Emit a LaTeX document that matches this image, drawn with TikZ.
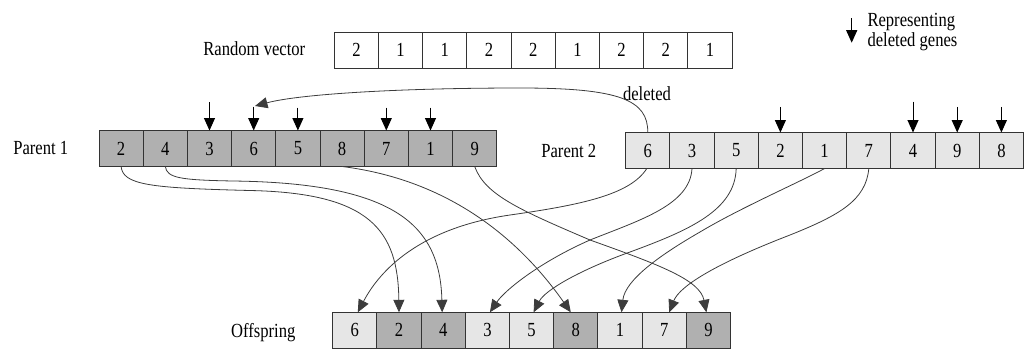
\documentclass[tikz,border=0pt]{standalone}
\usepackage{fontspec}
\setmainfont{Liberation Serif}[FakeStretch=0.83]
\usetikzlibrary{arrows.meta}
\definecolor{darkcell}{HTML}{B0B0B0}
\definecolor{lightcell}{HTML}{E6E6E6}
\definecolor{edge}{HTML}{333333}
\definecolor{wire}{HTML}{3C3C3C}
\begin{document}
\begin{tikzpicture}[x=1pt,y=-1pt,
  font=\fontsize{20}{20}\selectfont,
  cell/.style={draw=edge, line width=1pt, minimum width=44.2pt, minimum height=36pt,
    inner sep=0pt, outer sep=0pt, anchor=west},
  arrowtip/.style={-{Triangle[width=11pt,length=12.5pt]}},
  link/.style={arrowtip, draw=wire, line width=0.8pt},
  delmark/.style={arrowtip, draw=black, line width=1pt},
  label/.style={anchor=base, inner sep=0pt}]
\useasboundingbox (0,0) rectangle (1029,349);

% chromosome rows
\foreach \v [count=\i] in {2,1,1,2,2,1,2,2,1}
  \node[cell, fill=white] (r\i) at ({334.3+44.2*(\i-1)}, 50) {\v};
\foreach \v [count=\i] in {2,4,3,6,5,8,7,1,9}
  \node[cell, fill=darkcell] (pa\i) at ({99+44.2*(\i-1)}, 148.5) {\v};
\foreach \v [count=\i] in {6,3,5,2,1,7,4,9,8}
  \node[cell, fill=lightcell] (pb\i) at ({625.7+44.2*(\i-1)}, 150.5) {\v};
\foreach \v/\c [count=\i] in {6/lightcell,2/darkcell,4/darkcell,3/lightcell,5/lightcell,
    8/darkcell,1/lightcell,7/lightcell,9/darkcell}
  \node[cell, fill=\c] (oc\i) at ({332.7+44.2*(\i-1)}, 330.3) {\v};

% row labels
\node[label] (lrand) at (254.3,55) {Random vector};
\node[label] (lpa) at (40.8,154) {Parent 1};
\node[label] (lpb) at (568.8,157) {Parent 2};
\node[label] (loff) at (263.3,337.5) {Offspring};
\node[label] (ldel) at (647,100) {deleted};

% legend
\coordinate (legtop) at (851.7,18.3);
\coordinate (legbot) at (851.7,42.7);
\draw[delmark] (legtop) -- (legbot);
\node[anchor=base west, inner sep=0pt] (leg1) at (867.3,26.7) {Representing};
\node[anchor=base west, inner sep=0pt] (leg2) at (867.3,46.7) {deleted genes};

% deleted genes, parent 1
\draw[delmark] ([yshift=28.3pt]pa3.north) -- (pa3.north);
\draw[delmark] ([yshift=24pt]pa4.north) -- (pa4.north);
\draw[delmark] ([yshift=23pt]pa5.north) -- (pa5.north);
\draw[delmark] ([yshift=23pt]pa7.north) -- (pa7.north);
\draw[delmark] ([yshift=23pt]pa8.north) -- (pa8.north);
% deleted genes, parent 2
\draw[delmark] ([yshift=25.7pt]pb4.north) -- (pb4.north);
\draw[delmark] ([yshift=31pt]pb7.north) -- (pb7.north);
\draw[delmark] ([yshift=25.7pt]pb8.north) -- (pb8.north);
\draw[delmark] ([yshift=25.7pt]pb9.north) -- (pb9.north);

% gene 6 of parent 2 is removed from parent 1
\coordinate (deltip) at (255,106);
\draw[link] (pb1.north) .. controls (648,100) and (620,88) .. (520,88)
  .. controls (400,88) and (300,94) .. (deltip);

% genes kept from parent 1
\draw[link] (pa1.south) .. controls (123,185) and (150,188) .. (250,190.5)
  .. controls (370,193) and (398,230) .. (oc2.north);
\draw[link] (pa2.south) .. controls (167,178) and (180,180) .. (233,181)
  .. controls (395,183) and (440,225) .. ([xshift=-1pt]oc3.north);
\draw[link] (pa6.south) .. controls (450,180) and (520,240) .. ([xshift=-5pt]oc6.north);
\draw[link] (pa9.south) .. controls (485,195) and (520,210) .. (590,240)
  .. controls (660,265) and (700,280) .. ([xshift=-2pt]oc9.north);

% genes kept from parent 2
\draw[link] ([xshift=-1pt]pb1.south) .. controls (630,195) and (580,205) .. (510,215)
  .. controls (420,228) and (380,270) .. ([xshift=3pt]oc1.north);
\draw[link] (pb2.south) .. controls (690,205) and (640,220) .. (590,240)
  .. controls (540,262) and (505,290) .. ([xshift=2.5pt]oc4.north);
\draw[link] (pb3.south) .. controls (735,210) and (690,230) .. (630,252)
  .. controls (580,270) and (545,290) .. ([xshift=2pt]oc5.north);
\draw[link] (pb5.south) .. controls (800,182) and (740,208) .. (700,232)
  .. controls (660,255) and (625,280) .. ([xshift=1.5pt]oc7.north);
\draw[link] (pb6.south) .. controls (866,200) and (840,215) .. (790,235)
  .. controls (720,262) and (680,285) .. ([xshift=5pt]oc8.north);
\end{tikzpicture}
\end{document}
